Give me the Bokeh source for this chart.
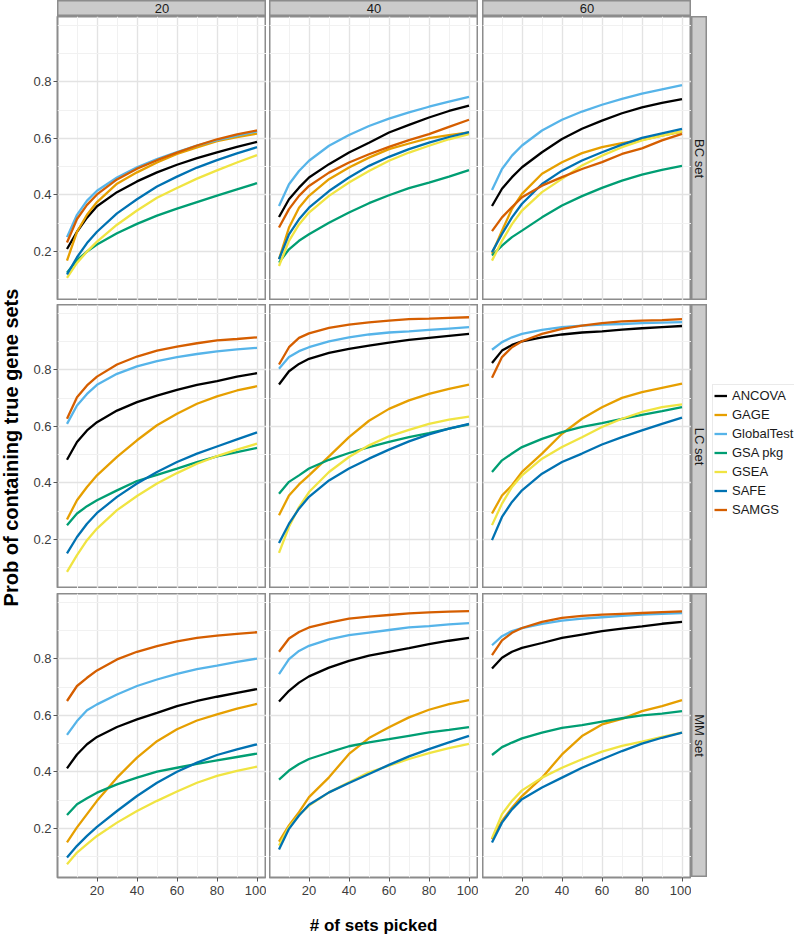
import math
from bokeh.plotting import figure
from bokeh.layouts import row, column
from bokeh.models import Range1d, FixedTicker, Label, Legend, LegendItem, Spacer
from bokeh.embed import file_html
from bokeh.resources import INLINE

# ---------------- data ----------------
x_vals = [5, 10, 15, 20, 30, 40, 50, 60, 70, 80, 90, 100]
methods = ["ANCOVA", "GAGE", "GlobalTest", "GSA pkg", "GSEA", "SAFE", "SAMGS"]
colors = ["#000000", "#E69F00", "#56B4E9", "#009E73", "#F0E442", "#0072B2", "#D55E00"]
col_labels = ["20", "40", "60"]
row_labels = ["BC set", "LC set", "MM set"]
x_ticks = [20, 40, 60, 80, 100]
x_minor = [10, 30, 50, 70, 90]
y_ticks = [0.2, 0.4, 0.6, 0.8]
y_minor = [0.1, 0.3, 0.5, 0.7, 0.9, 1.0]
x_title = "# of sets picked"
y_title = "Prob of containing true gene sets"

BC_20 = {
    "ANCOVA": [0.209, 0.27, 0.32, 0.36, 0.41, 0.448, 0.48, 0.507, 0.53, 0.551, 0.57, 0.588],
    "GAGE": [0.168, 0.27, 0.33, 0.375, 0.44, 0.48, 0.515, 0.545, 0.568, 0.59, 0.605, 0.617],
    "GlobalTest": [0.251, 0.33, 0.38, 0.415, 0.462, 0.498, 0.527, 0.552, 0.575, 0.594, 0.61, 0.625],
    "GSA pkg": [0.125, 0.17, 0.2, 0.225, 0.265, 0.298, 0.327, 0.352, 0.375, 0.398, 0.42, 0.442],
    "GSEA": [0.107, 0.16, 0.2, 0.235, 0.295, 0.345, 0.39, 0.425, 0.458, 0.487, 0.515, 0.541],
    "SAFE": [0.119, 0.18, 0.23, 0.27, 0.335, 0.385, 0.43, 0.465, 0.497, 0.523, 0.547, 0.569],
    "SAMGS": [0.232, 0.315, 0.365, 0.402, 0.455, 0.493, 0.523, 0.55, 0.575, 0.597, 0.614, 0.628],
}
BC_40 = {
    "ANCOVA": [0.322, 0.385, 0.426, 0.462, 0.509, 0.55, 0.585, 0.621, 0.648, 0.674, 0.697, 0.716],
    "GAGE": [0.173, 0.285, 0.355, 0.397, 0.456, 0.497, 0.532, 0.562, 0.582, 0.601, 0.612, 0.621],
    "GlobalTest": [0.361, 0.438, 0.485, 0.521, 0.574, 0.612, 0.644, 0.67, 0.692, 0.712, 0.73, 0.747],
    "GSA pkg": [0.161, 0.208, 0.238, 0.261, 0.302, 0.338, 0.371, 0.399, 0.424, 0.444, 0.465, 0.488],
    "GSEA": [0.149, 0.238, 0.296, 0.338, 0.397, 0.444, 0.485, 0.521, 0.55, 0.574, 0.597, 0.615],
    "SAFE": [0.173, 0.261, 0.314, 0.355, 0.414, 0.462, 0.503, 0.535, 0.562, 0.585, 0.605, 0.622],
    "SAMGS": [0.285, 0.35, 0.397, 0.432, 0.479, 0.515, 0.544, 0.57, 0.594, 0.615, 0.641, 0.666],
}
BC_60 = {
    "ANCOVA": [0.361, 0.422, 0.463, 0.498, 0.551, 0.598, 0.634, 0.663, 0.689, 0.71, 0.726, 0.739],
    "GAGE": [0.192, 0.274, 0.351, 0.404, 0.475, 0.516, 0.548, 0.569, 0.583, 0.595, 0.61, 0.624],
    "GlobalTest": [0.418, 0.492, 0.539, 0.575, 0.628, 0.666, 0.695, 0.719, 0.74, 0.758, 0.773, 0.788],
    "GSA pkg": [0.186, 0.221, 0.251, 0.274, 0.321, 0.363, 0.396, 0.425, 0.451, 0.472, 0.489, 0.503],
    "GSEA": [0.168, 0.238, 0.297, 0.345, 0.41, 0.457, 0.504, 0.539, 0.569, 0.593, 0.61, 0.625],
    "SAFE": [0.198, 0.262, 0.321, 0.369, 0.439, 0.486, 0.522, 0.551, 0.578, 0.602, 0.618, 0.634],
    "SAMGS": [0.272, 0.321, 0.357, 0.392, 0.433, 0.463, 0.492, 0.516, 0.545, 0.565, 0.593, 0.616],
}
LC_20 = {
    "ANCOVA": [0.482, 0.545, 0.586, 0.615, 0.656, 0.686, 0.709, 0.729, 0.747, 0.76, 0.776, 0.788],
    "GAGE": [0.271, 0.339, 0.386, 0.427, 0.492, 0.551, 0.604, 0.645, 0.68, 0.706, 0.727, 0.742],
    "GlobalTest": [0.609, 0.674, 0.715, 0.747, 0.786, 0.812, 0.831, 0.845, 0.856, 0.865, 0.872, 0.878],
    "GSA pkg": [0.251, 0.292, 0.318, 0.339, 0.374, 0.407, 0.429, 0.451, 0.474, 0.494, 0.509, 0.524],
    "GSEA": [0.086, 0.145, 0.198, 0.239, 0.304, 0.354, 0.398, 0.435, 0.468, 0.495, 0.518, 0.539],
    "SAFE": [0.151, 0.209, 0.256, 0.294, 0.351, 0.398, 0.439, 0.474, 0.504, 0.529, 0.554, 0.579],
    "SAMGS": [0.627, 0.703, 0.745, 0.776, 0.819, 0.847, 0.868, 0.882, 0.894, 0.904, 0.909, 0.915],
}
LC_40 = {
    "ANCOVA": [0.748, 0.795, 0.821, 0.839, 0.86, 0.874, 0.886, 0.896, 0.906, 0.913, 0.92, 0.927],
    "GAGE": [0.286, 0.356, 0.395, 0.427, 0.494, 0.562, 0.62, 0.662, 0.692, 0.715, 0.733, 0.748],
    "GlobalTest": [0.804, 0.845, 0.866, 0.88, 0.901, 0.915, 0.925, 0.932, 0.936, 0.941, 0.946, 0.951],
    "GSA pkg": [0.362, 0.404, 0.427, 0.451, 0.482, 0.506, 0.527, 0.545, 0.562, 0.576, 0.592, 0.607],
    "GSEA": [0.153, 0.245, 0.315, 0.368, 0.439, 0.492, 0.533, 0.565, 0.588, 0.609, 0.624, 0.635],
    "SAFE": [0.188, 0.256, 0.309, 0.351, 0.409, 0.451, 0.486, 0.518, 0.547, 0.572, 0.592, 0.609],
    "SAMGS": [0.819, 0.88, 0.913, 0.929, 0.948, 0.96, 0.968, 0.974, 0.979, 0.981, 0.984, 0.986],
}
LC_60 = {
    "ANCOVA": [0.824, 0.868, 0.888, 0.901, 0.915, 0.925, 0.932, 0.936, 0.942, 0.947, 0.951, 0.955],
    "GAGE": [0.292, 0.356, 0.392, 0.439, 0.504, 0.574, 0.627, 0.668, 0.701, 0.721, 0.736, 0.751],
    "GlobalTest": [0.871, 0.898, 0.915, 0.927, 0.941, 0.951, 0.956, 0.96, 0.962, 0.965, 0.967, 0.969],
    "GSA pkg": [0.439, 0.48, 0.504, 0.527, 0.556, 0.58, 0.598, 0.612, 0.627, 0.641, 0.654, 0.668],
    "GSEA": [0.251, 0.327, 0.386, 0.427, 0.486, 0.527, 0.562, 0.598, 0.627, 0.651, 0.668, 0.678],
    "SAFE": [0.198, 0.28, 0.333, 0.374, 0.433, 0.474, 0.504, 0.536, 0.562, 0.586, 0.609, 0.631],
    "SAMGS": [0.772, 0.845, 0.88, 0.901, 0.927, 0.945, 0.956, 0.965, 0.971, 0.974, 0.976, 0.979],
}
MM_20 = {
    "ANCOVA": [0.413, 0.462, 0.498, 0.524, 0.559, 0.586, 0.609, 0.633, 0.651, 0.666, 0.68, 0.693],
    "GAGE": [0.151, 0.204, 0.251, 0.298, 0.38, 0.451, 0.509, 0.551, 0.582, 0.604, 0.624, 0.641],
    "GlobalTest": [0.531, 0.58, 0.618, 0.639, 0.674, 0.704, 0.727, 0.747, 0.764, 0.776, 0.789, 0.801],
    "GSA pkg": [0.248, 0.286, 0.307, 0.327, 0.356, 0.38, 0.401, 0.415, 0.429, 0.441, 0.453, 0.465],
    "GSEA": [0.074, 0.115, 0.145, 0.174, 0.221, 0.262, 0.298, 0.331, 0.362, 0.386, 0.404, 0.419],
    "SAFE": [0.098, 0.139, 0.174, 0.206, 0.262, 0.315, 0.362, 0.401, 0.433, 0.46, 0.48, 0.498],
    "SAMGS": [0.651, 0.704, 0.733, 0.759, 0.798, 0.825, 0.845, 0.862, 0.874, 0.882, 0.888, 0.894],
}
MM_40 = {
    "ANCOVA": [0.649, 0.687, 0.716, 0.738, 0.769, 0.793, 0.811, 0.825, 0.838, 0.852, 0.864, 0.874],
    "GAGE": [0.154, 0.211, 0.258, 0.311, 0.381, 0.464, 0.52, 0.558, 0.593, 0.62, 0.64, 0.654],
    "GlobalTest": [0.746, 0.799, 0.828, 0.846, 0.869, 0.884, 0.893, 0.902, 0.911, 0.916, 0.922, 0.926],
    "GSA pkg": [0.373, 0.405, 0.428, 0.446, 0.469, 0.491, 0.505, 0.516, 0.528, 0.54, 0.549, 0.559],
    "GSEA": [0.14, 0.205, 0.248, 0.281, 0.328, 0.364, 0.399, 0.422, 0.446, 0.467, 0.484, 0.499],
    "SAFE": [0.126, 0.199, 0.246, 0.284, 0.328, 0.361, 0.393, 0.425, 0.455, 0.481, 0.505, 0.528],
    "SAMGS": [0.825, 0.872, 0.895, 0.911, 0.928, 0.942, 0.949, 0.955, 0.961, 0.964, 0.967, 0.969],
}
MM_60 = {
    "ANCOVA": [0.766, 0.804, 0.825, 0.839, 0.856, 0.874, 0.886, 0.898, 0.907, 0.915, 0.924, 0.931],
    "GAGE": [0.162, 0.227, 0.274, 0.315, 0.38, 0.462, 0.527, 0.568, 0.588, 0.615, 0.633, 0.654],
    "GlobalTest": [0.848, 0.88, 0.898, 0.909, 0.924, 0.935, 0.942, 0.947, 0.952, 0.956, 0.959, 0.962],
    "GSA pkg": [0.46, 0.488, 0.504, 0.519, 0.539, 0.556, 0.566, 0.578, 0.59, 0.6, 0.606, 0.615],
    "GSEA": [0.166, 0.251, 0.298, 0.335, 0.38, 0.415, 0.445, 0.472, 0.492, 0.507, 0.524, 0.539],
    "SAFE": [0.151, 0.221, 0.268, 0.304, 0.345, 0.38, 0.415, 0.445, 0.474, 0.5, 0.521, 0.539],
    "SAMGS": [0.813, 0.865, 0.892, 0.909, 0.931, 0.945, 0.952, 0.956, 0.959, 0.962, 0.965, 0.968],
}
panels_data = [[BC_20, BC_40, BC_60], [LC_20, LC_40, LC_60], [MM_20, MM_40, MM_60]]

# ---------------- style ----------------
FONT = "Liberation Sans"
PW, PH = 209, 284          # panel frame size
YLW = 23                   # width of the y-title strip
AXW, AXH = 57 - YLW, 28    # axis areas
SW = 16                    # width of the right-hand strips
BORDER = "#8c8c8c"
STRIP_FILL = "#CBCBCB"
LW = 2.3


def base_fig(w, h, xr, yr, **kw):
    p = figure(width=w, height=h, x_range=xr, y_range=yr,
               output_backend="svg", toolbar_location=None, **kw)
    p.background_fill_color = "white"
    p.border_fill_color = "white"
    return p


def blank_fig(w, h):
    f = base_fig(w, h, Range1d(0, w), Range1d(0, h),
                 x_axis_location=None, y_axis_location=None, min_border=0)
    f.xgrid.visible = False
    f.ygrid.visible = False
    f.outline_line_color = None
    return f


def make_panel(data, ri, ci):
    first_col = ci == 0
    last_row = ri == 2
    p = base_fig(PW + (AXW if first_col else 0), PH + (AXH if last_row else 0),
                 Range1d(0.25, 104.75), Range1d(0.027, 1.031),
                 x_axis_location="below" if last_row else None,
                 y_axis_location="left" if first_col else None,
                 min_border_left=AXW if first_col else 0, min_border_right=0,
                 min_border_top=0, min_border_bottom=AXH if last_row else 0)
    p.outline_line_color = BORDER
    p.outline_line_width = 2
    p.xgrid.ticker = FixedTicker(ticks=x_ticks, minor_ticks=x_minor)
    p.ygrid.ticker = FixedTicker(ticks=y_ticks, minor_ticks=y_minor)
    for g in (p.xgrid, p.ygrid):
        g.grid_line_color = "#E3E3E3"
        g.grid_line_width = 1.4
        g.minor_grid_line_color = "#F1F1F1"
        g.minor_grid_line_width = 1
    for ax in list(p.xaxis) + list(p.yaxis):
        ax.axis_line_color = None
        ax.major_tick_line_color = "#555555"
        ax.major_tick_out = 4
        ax.major_tick_in = 0
        ax.minor_tick_line_color = None
        ax.major_label_text_font = FONT
        ax.major_label_text_font_size = "13px"
        ax.major_label_text_color = "#3c3c3c"
        ax.major_label_standoff = 2
    for ax in p.xaxis:
        ax.ticker = FixedTicker(ticks=x_ticks)
        ax.major_label_standoff = 4
    for ax in p.yaxis:
        ax.ticker = FixedTicker(ticks=y_ticks)
    for m, c in zip(methods, colors):
        p.line(x_vals, data[m], line_color=c, line_width=LW)
    return p


def make_strip(w, h, text, angle=0.0, size="13px"):
    s = base_fig(w, h, Range1d(0, 1), Range1d(0, 1),
                 x_axis_location=None, y_axis_location=None, min_border=0)
    s.xgrid.visible = False
    s.ygrid.visible = False
    s.background_fill_color = STRIP_FILL
    s.outline_line_color = BORDER
    s.outline_line_width = 2
    s.add_layout(Label(x=0.5, y=0.5, text=text, angle=angle, text_align="center",
                       text_baseline="middle", text_font=FONT, text_font_size=size,
                       text_color="#1a1a1a"))
    return s


panels = [[make_panel(panels_data[r][c], r, c) for c in range(3)] for r in range(3)]
right_strips = [make_strip(SW, PH, row_labels[r], angle=-math.pi / 2, size="13px") for r in range(3)]
top_strips = [make_strip(PW, 16, col_labels[c]) for c in range(3)]

# y-axis title
YL_H = PH * 3 + 4 + 5 + AXH
yl = blank_fig(YLW, YL_H)
yl.add_layout(Label(x=10, y=YL_H - 431, text=y_title, angle=math.pi / 2,
                    text_align="center", text_baseline="middle", text_font=FONT,
                    text_font_size="20px", text_font_style="bold", text_color="black"))

# x-axis title
xl = blank_fig(634, 32)
xl.add_layout(Label(x=316, y=12, text=x_title, text_align="center",
                    text_baseline="middle", text_font=FONT, text_font_size="17px",
                    text_font_style="bold", text_color="black"))

# legend
lg = base_fig(83, 135, Range1d(0, 1), Range1d(0, 1),
              x_axis_location=None, y_axis_location=None, min_border=0)
lg.xgrid.visible = False
lg.ygrid.visible = False
lg.outline_line_color = None
items = []
for m, c in zip(methods, colors):
    r = lg.line(x_vals, LC_60[m], line_color=c, line_width=LW)
    items.append(LegendItem(label=m, renderers=[r]))
legend = Legend(items=items, location="top_left", margin=1, padding=1, spacing=0,
                glyph_width=13, glyph_height=19, label_height=19, label_standoff=5,
                label_text_font=FONT, label_text_font_size="13px", label_text_color="#1a1a1a",
                border_line_color="#d6d6d6", border_line_width=1,
                background_fill_color="white")
lg.add_layout(legend)

# ---------------- layout ----------------
def panel_row(r):
    strip = right_strips[r]
    if r == 2:
        strip = column(strip, Spacer(width=SW, height=AXH))
    h = PH + (AXH if r == 2 else 0)
    return row(panels[r][0], Spacer(width=3, height=h), panels[r][1],
               Spacer(width=4, height=h), panels[r][2], strip)


inner_w = AXW + PW + 3 + PW + 4 + PW + SW
legend_w = 794 - YLW - inner_w
panels_col = column(panel_row(0), Spacer(width=inner_w, height=4), panel_row(1),
                    Spacer(width=inner_w, height=5), panel_row(2))
legend_col = column(Spacer(width=legend_w, height=367),
                    row(Spacer(width=legend_w - 83, height=135), lg))
top = row(Spacer(width=57, height=16), top_strips[0], Spacer(width=3, height=16),
          top_strips[1], Spacer(width=4, height=16), top_strips[2])
main = row(yl, panels_col, legend_col)
bottom = row(Spacer(width=57, height=32), xl)
layout = column(top, main, bottom)

open("out.html", "w").write(file_html(layout, INLINE))
